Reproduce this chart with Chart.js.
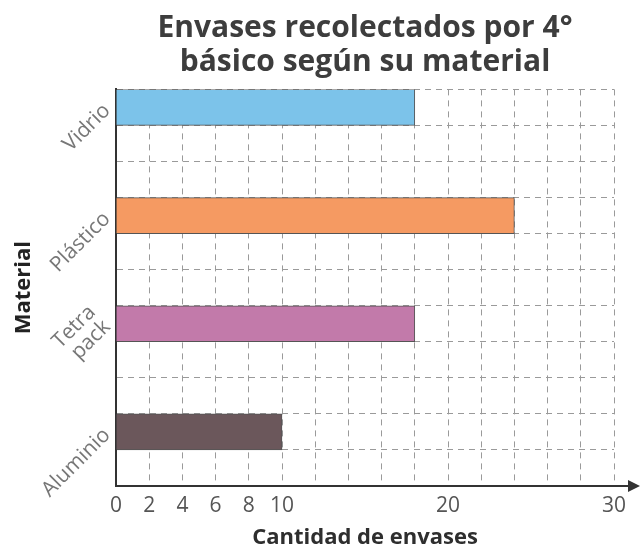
<!DOCTYPE html>
<html>
<head>
<meta charset="utf-8">
<script src="https://cdn.jsdelivr.net/npm/chart.js"></script>
<style>
    html, body { margin: 0; padding: 0; background: #fff; }
</style>
</head>
<body>
<canvas id="chart" width="641" height="554"></canvas>
<script>
// datos
const materiales = ['Vidrio', 'Plástico', ['Tetra', 'pack', ''], 'Aluminio'];
const cantidades = [18, 24, 18, 10];
const colores = ['#7cc3ea', '#f59a62', '#c27aaa', '#6b575b'];
const filasMaterial = [0, 3, 6, 9]; // fila de la cuadrícula donde va cada barra
const totalFilas = 11;
const etiquetasX = [0, 2, 4, 6, 8, 10, 20, 30];

// armar las 11 filas de la cuadrícula
let etiquetas = [];
let valores = [];
let coloresFila = [];
for (let i = 0; i < totalFilas; i++) {
    let k = filasMaterial.indexOf(i);
    etiquetas.push(k >= 0 ? materiales[k] : '');
    valores.push(k >= 0 ? cantidades[k] : null);
    coloresFila.push(k >= 0 ? colores[k] : 'transparent');
}

const fuente = "'Open Sans', 'DejaVu Sans', sans-serif";

// flecha del eje x
const flecha = {
    id: 'flecha',
    afterDraw(chart) {
        const { ctx, chartArea } = chart;
        const y = chartArea.bottom;
        const fin = chart.width - 1;
        ctx.save();
        ctx.strokeStyle = '#333';
        ctx.fillStyle = '#333';
        ctx.lineWidth = 2;
        ctx.beginPath();
        ctx.moveTo(chartArea.right, y);
        ctx.lineTo(fin - 8, y);
        ctx.stroke();
        ctx.beginPath();
        ctx.moveTo(fin, y);
        ctx.lineTo(fin - 12, y - 6);
        ctx.lineTo(fin - 12, y + 6);
        ctx.closePath();
        ctx.fill();
        ctx.restore();
    }
};

new Chart(document.getElementById('chart'), {
    type: 'bar',
    data: {
        labels: etiquetas,
        datasets: [{
            data: valores,
            backgroundColor: coloresFila,
            borderColor: '#555',
            borderWidth: 1,
            barPercentage: 1,
            categoryPercentage: 1
        }]
    },
    options: {
        responsive: false,
        animation: false,
        indexAxis: 'y',
        layout: { padding: { left: 0, right: 27, top: 0, bottom: 0 } },
        plugins: {
            legend: { display: false },
            tooltip: { enabled: false },
            title: {
                display: true,
                text: ['Envases recolectados por 4°', 'básico según su material'],
                color: '#3d3d3d',
                font: { family: fuente, size: 30, weight: 'bold', lineHeight: 1.14 },
                padding: { top: 11, bottom: 10 },
                fullSize: false
            }
        },
        scales: {
            x: {
                min: 0,
                max: 30,
                afterFit: s => { s.height = 68; },
                ticks: {
                    stepSize: 2,
                    autoSkip: false,
                    maxRotation: 0,
                    padding: 7,
                    color: '#555',
                    font: { family: fuente, size: 21 },
                    callback: v => etiquetasX.includes(v) ? v : ''
                },
                grid: { color: '#9a9a9a', lineWidth: 1, drawTicks: false },
                border: { color: '#333', width: 2, dash: [6, 5] },
                title: {
                    display: true,
                    text: 'Cantidad de envases',
                    color: '#2e2e2e',
                    font: { family: fuente, size: 22, weight: 'bold' },
                    padding: { top: 2, bottom: 3 }
                }
            },
            y: {
                afterFit: s => { s.width = 116; },
                ticks: {
                    autoSkip: false,
                    minRotation: 45,
                    maxRotation: 45,
                    padding: 9,
                    color: '#777',
                    font: { family: fuente, size: 21, lineHeight: 1.0 }
                },
                grid: { color: '#9a9a9a', lineWidth: 1, drawTicks: false, offset: true },
                border: { color: '#333', width: 2, dash: [6, 5] },
                title: {
                    display: true,
                    text: 'Material',
                    color: '#222',
                    font: { family: fuente, size: 22, weight: 'bold' },
                    padding: { top: 11, bottom: 4 }
                }
            }
        }
    },
    plugins: [flecha]
});
</script>
</body>
</html>
